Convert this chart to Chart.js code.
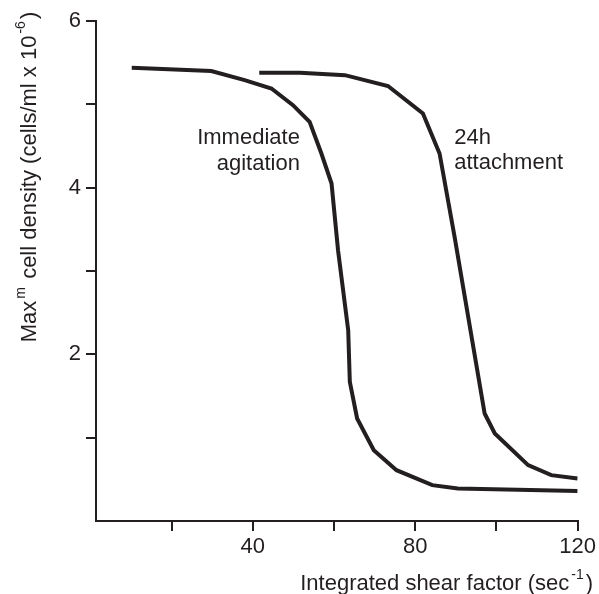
<!DOCTYPE html>
<html lang="en">
  <head>
    <meta charset="UTF-8" />
    <title>Max cell density vs shear</title>
    <script src="https://cdn.jsdelivr.net/npm/chart.js@4.4.1/dist/chart.umd.min.js"></script>
    <style>
      body { margin: 0; background: #fff; }
      canvas { display: block; }
    </style>
  </head>
  <body>
    <canvas id="chart" width="599" height="594"></canvas>

    <script>
      // values
      const immediateX = [10.2, 29.8, 38.0, 44.6, 49.9, 54.0, 56.9, 59.4, 61.0, 63.5, 63.9, 65.7, 69.8, 75.4, 84.2, 90.5, 120];
      const immediateY = [5.44, 5.40, 5.29, 5.19, 4.99, 4.79, 4.41, 4.05, 3.25, 2.29, 1.67, 1.23, 0.85, 0.61, 0.43, 0.39, 0.36];
      const attachX = [41.6, 51.6, 62.7, 73.3, 81.9, 86.0, 89.7, 97.1, 99.6, 107.8, 113.5, 120];
      const attachY = [5.38, 5.38, 5.35, 5.22, 4.89, 4.41, 3.41, 1.29, 1.05, 0.67, 0.55, 0.51];

      const xTicks = [20, 40, 60, 80, 100, 120];
      const xTickLabels = ['', '40', '', '80', '', '120'];
      const yTicks = [1, 2, 3, 4, 5, 6];
      const yTickLabels = ['', '2', '', '4', '', '6'];

      const ink = '#231f20';
      const mainFont = '22px "Liberation Sans", Arial, sans-serif';
      const supFont = '14px "Liberation Sans", Arial, sans-serif';
      const supGap = 2;

      function toPoints(xs, ys) {
        return xs.map((x, i) => ({ x: x, y: ys[i] }));
      }

      // text with superscript bits
      function partsWidth(ctx, parts) {
        let w = 0;
        parts.forEach(p => {
          ctx.font = p.sup ? supFont : mainFont;
          w += ctx.measureText(p.t).width + (p.sup ? supGap * 2 : 0);
        });
        return w;
      }
      function drawParts(ctx, parts, x, y) {
        let cx = x;
        parts.forEach(p => {
          ctx.font = p.sup ? supFont : mainFont;
          if (p.sup) cx += supGap;
          ctx.fillText(p.t, cx, p.sup ? y - 11 : y);
          cx += ctx.measureText(p.t).width + (p.sup ? supGap : 0);
        });
      }

      const xTitle = [{ t: 'Integrated shear factor (sec' }, { t: '-1', sup: true }, { t: ')' }];
      const yTitle = [{ t: 'Max' }, { t: 'm', sup: true }, { t: ' cell density (cells/ml x 10' }, { t: '-6', sup: true }, { t: ')' }];

      const labelsPlugin = {
        id: 'labels',
        afterDraw(chart) {
          const ctx = chart.ctx;
          const xs = chart.scales.x, ys = chart.scales.y;
          ctx.save();
          ctx.fillStyle = ink;
          ctx.textBaseline = 'alphabetic';

          // x title, right aligned
          let w = partsWidth(ctx, xTitle);
          drawParts(ctx, xTitle, 593 - w, 590);

          // y title, rotated
          w = partsWidth(ctx, yTitle);
          ctx.save();
          ctx.translate(36, 177);
          ctx.rotate(-Math.PI / 2);
          drawParts(ctx, yTitle, -w / 2, 0);
          ctx.restore();

          // curve labels
          ctx.font = mainFont;
          ctx.textBaseline = 'middle';
          ctx.textAlign = 'right';
          ctx.fillText('Immediate', xs.getPixelForValue(51.6), ys.getPixelForValue(4.60));
          ctx.fillText('agitation', xs.getPixelForValue(51.6), ys.getPixelForValue(4.29));
          ctx.textAlign = 'left';
          ctx.fillText('24h', xs.getPixelForValue(89.6), ys.getPixelForValue(4.60));
          ctx.fillText('attachment', xs.getPixelForValue(89.6), ys.getPixelForValue(4.30));
          ctx.restore();
        }
      };

      const lineStyle = {
        borderColor: ink,
        borderWidth: 4,
        pointRadius: 0,
        tension: 0,
        fill: false
      };

      const ctx = document.getElementById('chart').getContext('2d');
      new Chart(ctx, {
        type: 'line',
        data: {
          datasets: [
            Object.assign({ label: 'Immediate agitation', data: toPoints(immediateX, immediateY) }, lineStyle),
            Object.assign({ label: '24h attachment', data: toPoints(attachX, attachY) }, lineStyle)
          ]
        },
        options: {
          responsive: false,
          animation: false,
          layout: { padding: { left: 0, top: 21, right: 21, bottom: 0 } },
          plugins: { legend: { display: false }, tooltip: { enabled: false } },
          scales: {
            x: {
              type: 'linear',
              min: 1.4,
              max: 120,
              afterBuildTicks: s => { s.ticks = xTicks.map(v => ({ value: v })); },
              afterFit: s => { s.height = 73; },
              ticks: {
                color: ink,
                font: { family: '"Liberation Sans", Arial, sans-serif', size: 22 },
                padding: 3,
                maxRotation: 0,
                autoSkip: false,
                callback: (v) => xTickLabels[xTicks.indexOf(v)] || ''
              },
              grid: { drawOnChartArea: false, drawTicks: true, tickLength: 10, color: ink, lineWidth: 2 },
              border: { display: true, color: ink, width: 2 }
            },
            y: {
              min: 0,
              max: 6,
              afterBuildTicks: s => { s.ticks = yTicks.map(v => ({ value: v })); },
              afterFit: s => { s.width = 96; },
              ticks: {
                color: ink,
                font: { family: '"Liberation Sans", Arial, sans-serif', size: 22 },
                padding: 5,
                autoSkip: false,
                callback: (v) => yTickLabels[yTicks.indexOf(v)] || ''
              },
              grid: { drawOnChartArea: false, drawTicks: true, tickLength: 10, color: ink, lineWidth: 2 },
              border: { display: true, color: ink, width: 2 }
            }
          }
        },
        plugins: [labelsPlugin]
      });
    </script>
  </body>
</html>
